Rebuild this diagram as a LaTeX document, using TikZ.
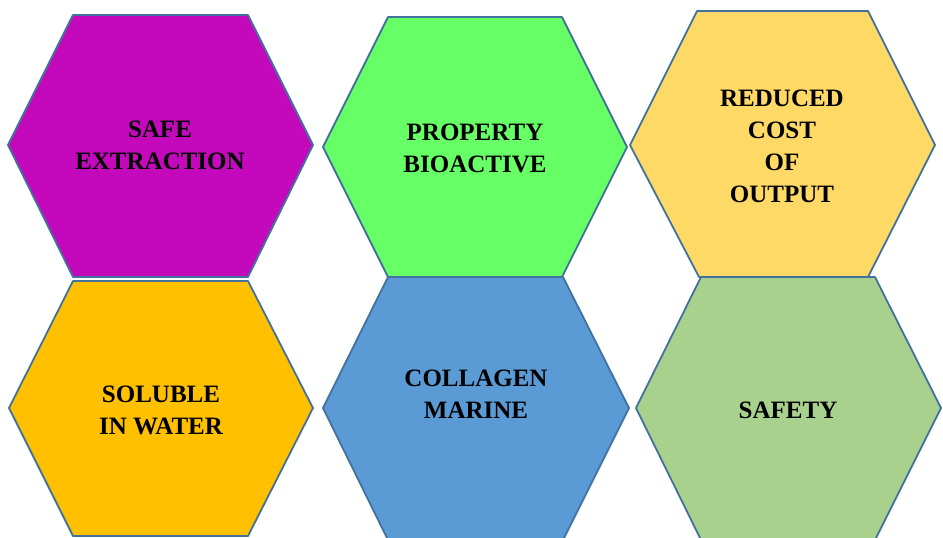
\documentclass[tikz,border=0pt]{standalone}
\usepackage{fontspec}
\setmainfont{Liberation Serif}
\usepackage{tikz}

\definecolor{hexEdge}{HTML}{41719C}
\definecolor{hexMagenta}{HTML}{C409BC}
\definecolor{hexGreen}{HTML}{66FF66}
\definecolor{hexGold}{HTML}{FFD966}
\definecolor{hexOrange}{HTML}{FFC000}
\definecolor{hexBlue}{HTML}{5B9BD5}
\definecolor{hexOlive}{HTML}{A9D18E}

\begin{document}
\begin{tikzpicture}[x=1pt,y=-1pt]
		\clip (0,0) rectangle (943,538);
		\begin{scope}
			[
				styleHex/.style={draw=hexEdge, line width=1.8pt, line join=round, fill=#1},
			]
			\draw[styleHex=hexMagenta] (8,145) -- (73,15) -- (248,15) -- (313,145) -- (248,277) -- (73,277) -- cycle;
			\draw[styleHex=hexGreen] (323,147) -- (388,17) -- (562,17) -- (627,147) -- (562,277) -- (388,277) -- cycle;
			\draw[styleHex=hexGold] (630,145) -- (697,11) -- (868,11) -- (935,145) -- (868,277) -- (699,277) -- cycle;

			\draw[styleHex=hexOrange] (9,408) -- (73,281) -- (248,281) -- (313,408) -- (248,536) -- (73,536) -- cycle;
			\draw[styleHex=hexBlue] (323,408) -- (388,277) -- (563,277) -- (629,408) -- (563,540) -- (388,540) -- cycle;
			\draw[styleHex=hexOlive] (636,408) -- (701,277) -- (875,277) -- (941,408) -- (875,540) -- (701,540) -- cycle;
		\end{scope}

		\begin{scope}
			[
				styleText/.style={align=center, inner sep=0pt,
					font=\fontsize{25}{32}\selectfont\bfseries},
			]
			\node(safe)[styleText] at (160,145) {SAFE\\EXTRACTION};
			\node(bio)[styleText] at (475,148) {PROPERTY\\BIOACTIVE};
			\node(cost)[styleText] at (782,146) {REDUCED\\COST\\OF\\OUTPUT};

			\node(water)[styleText] at (161,410) {SOLUBLE\\IN WATER};
			\node(marine)[styleText] at (476,394) {COLLAGEN\\MARINE};
			\node(safety)[styleText] at (788,410) {SAFETY};
		\end{scope}
\end{tikzpicture}
\end{document}
